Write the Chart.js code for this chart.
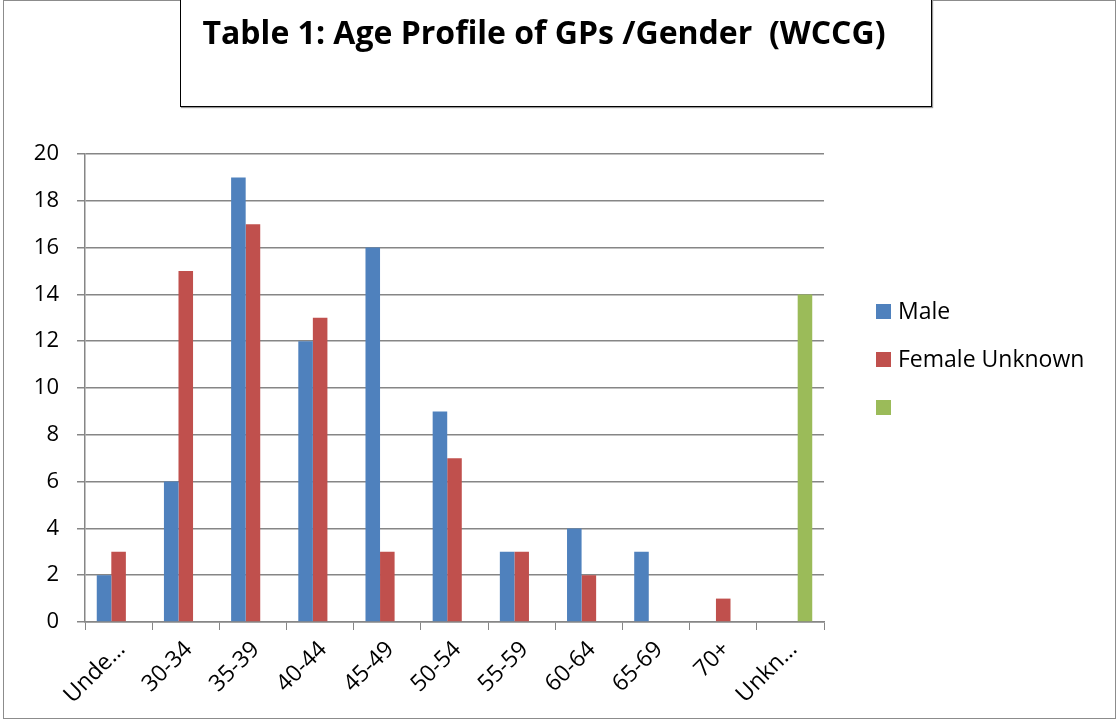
<!DOCTYPE html>
<html>
<head>
<meta charset="utf-8">
<script src="https://cdn.jsdelivr.net/npm/chart.js@4.4.1/dist/chart.umd.min.js"></script>
<style>
  html, body { margin: 0; padding: 0; background: #fff; }
  #wrap { position: relative; width: 1120px; height: 722px; }
  #frame { position: absolute; left: 3px; top: 0; width: 1113px; height: 719px; border: 1.5px solid #8c8c8c; box-sizing: border-box; }
  #titleBox {
    position: absolute; left: 180px; top: -2px; width: 752px; height: 109px;
    border: 1.5px solid #000; box-sizing: border-box; background: #fff;
    box-shadow: 1px 1px 1px #999;
    font-family: "Open Sans", sans-serif; font-weight: bold; font-size: 32px;
    line-height: normal; text-align: center; padding: 11px 24px 0 0; color: #000;
  }
  canvas { position: absolute; left: 0; top: 0; }
</style>
</head>
<body>
<div id="wrap">
  <div id="frame"></div>
  <canvas id="ageChart" width="1120" height="722"></canvas>
  <div id="titleBox">Table 1: Age Profile of GPs /Gender&nbsp; (WCCG)</div>
</div>
<script>
const ageGroups = ["Unde…", "30-34", "35-39", "40-44", "45-49", "50-54", "55-59", "60-64", "65-69", "70+", "Unkn…"];
const maleCounts = [2, 6, 19, 12, 16, 9, 3, 4, 3, 0, 0];
const femaleCounts = [3, 15, 17, 13, 3, 7, 3, 2, 0, 1, 0];
const unknownCounts = [0, 0, 0, 0, 0, 0, 0, 0, 0, 0, 14];
const seriesLabels = ["Male", "Female Unknown", ""];
const seriesColors = ["#4F81BD", "#C0504D", "#9BBB59"];

const FONT = "'Open Sans', sans-serif";
const GRID = "#868686";

// legend on the right, drawn by hand like the office chart
const sideLegend = {
  id: "sideLegend",
  afterDraw(chart) {
    const ctx = chart.ctx;
    ctx.save();
    ctx.font = "23px " + FONT;
    ctx.textBaseline = "middle";
    chart.data.datasets.forEach((ds, i) => {
      const y = 311 + i * 48;
      ctx.fillStyle = ds.backgroundColor;
      ctx.fillRect(876, y - 7, 15, 15);
      ctx.fillStyle = "#000";
      ctx.fillText(ds.label, 898, y + 1);
    });
    ctx.restore();
  }
};

const ctx = document.getElementById("ageChart");
new Chart(ctx, {
  type: "bar",
  data: {
    labels: ageGroups,
    datasets: [
      { label: seriesLabels[0], data: maleCounts, backgroundColor: seriesColors[0] },
      { label: seriesLabels[1], data: femaleCounts, backgroundColor: seriesColors[1] },
      { label: seriesLabels[2], data: unknownCounts, backgroundColor: seriesColors[2] }
    ]
  },
  options: {
    responsive: false,
    animation: false,
    layout: { padding: { top: 154, right: 296, left: 0, bottom: 0 } },
    datasets: { bar: { categoryPercentage: 0.65, barPercentage: 1 } },
    plugins: {
      legend: { display: false },
      tooltip: { enabled: false }
    },
    scales: {
      x: {
        grid: { drawOnChartArea: false, drawTicks: true, tickLength: 8, color: GRID, offset: true },
        border: { color: GRID, width: 1.5 },
        ticks: { color: "#000", font: { family: FONT, size: 23 }, minRotation: 45, maxRotation: 45, autoSkip: false, padding: 6, labelOffset: 3 },
        afterFit(scale) { scale.height = 100; }
      },
      y: {
        min: 0,
        max: 20,
        grid: { color: GRID, lineWidth: 1.5, tickLength: 8 },
        border: { color: GRID, width: 1.5 },
        ticks: { stepSize: 2, color: "#000", font: { family: FONT, size: 22 }, padding: 18 },
        afterFit(scale) { scale.width = 85; }
      }
    }
  },
  plugins: [sideLegend]
});
</script>
</body>
</html>
